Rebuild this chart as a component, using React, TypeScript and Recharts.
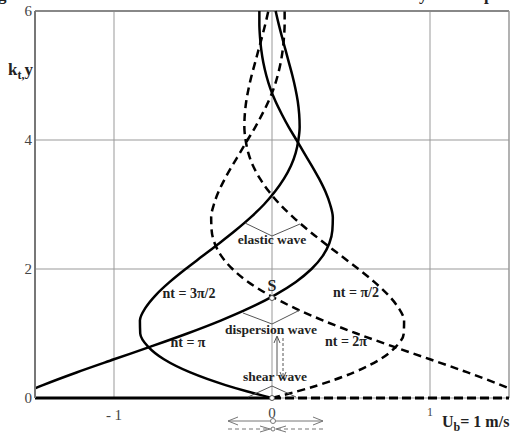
import React from 'react';
import { ComposedChart, Line, XAxis, YAxis, CartesianGrid, ReferenceLine } from 'recharts';

const ky = [0, 0.1, 0.2, 0.4, 0.6, 0.8, 1.0, 1.2, 1.4, 1.6, 1.8, 2.0, 2.2, 2.4, 2.6, 2.8, 3.0, 3.2, 3.4, 3.6, 3.8, 4.0, 4.2, 4.4, 4.6, 4.8, 5.0, 5.2, 5.4, 5.6, 5.8, 6.0];
const ntPi = [-1.635, -1.548, -1.45, -1.233, -1.0, -0.764, -0.536, -0.325, -0.138, 0.021, 0.151, 0.25, 0.32, 0.363, 0.382, 0.385, 0.368, 0.338, 0.298, 0.252, 0.203, 0.155, 0.106, 0.062, 0.022, -0.011, -0.036, -0.055, -0.068, -0.076, -0.08, -0.08];
const nt3Pi2 = [0, -0.155, -0.294, -0.521, -0.684, -0.786, -0.834, -0.836, -0.8, -0.734, -0.647, -0.547, -0.44, -0.333, -0.23, -0.135, -0.051, 0.019, 0.076, 0.12, 0.15, 0.167, 0.175, 0.172, 0.163, 0.148, 0.129, 0.107, 0.085, 0.063, 0.042, 0.023];
const nt2Pi = [1.635, 1.548, 1.45, 1.233, 1.0, 0.764, 0.536, 0.325, 0.138, -0.021, -0.151, -0.25, -0.32, -0.363, -0.382, -0.385, -0.368, -0.338, -0.298, -0.252, -0.203, -0.155, -0.106, -0.062, -0.022, 0.011, 0.036, 0.055, 0.068, 0.076, 0.08, 0.08];
const ntPi2 = [0, 0.155, 0.294, 0.521, 0.684, 0.786, 0.834, 0.836, 0.8, 0.734, 0.647, 0.547, 0.44, 0.333, 0.23, 0.135, 0.051, -0.019, -0.076, -0.12, -0.15, -0.167, -0.175, -0.172, -0.163, -0.148, -0.129, -0.107, -0.085, -0.063, -0.042, -0.023];

const xTicks = [-1, 0, 1];
const xTickLabels = ['- 1', '0', '1'];
const yTicks = [0, 2, 4, 6];

const data = ky.map((y, i) => ({ ky: y, ntPi: ntPi[i], nt3Pi2: nt3Pi2[i], nt2Pi: nt2Pi[i], ntPi2: ntPi2[i] }));

const SERIF = "'Liberation Serif', 'DejaVu Serif', serif";

const XTick = (props: any) => {
  const { x, y, payload, index } = props;
  const dy = index === 0 ? 14 : index === 1 ? 12 : 10;
  const size = index === 2 ? 12 : 15;
  return (
    <text x={x} y={y + dy} textAnchor="middle" fontFamily={SERIF} fontSize={size} fill="#444">
      {xTickLabels[xTicks.indexOf(payload.value)]}
    </text>
  );
};

const YTick = (props: any) => {
  const { x, y, payload } = props;
  return (
    <text x={x} y={y + 5} textAnchor="end" fontFamily={SERIF} fontSize={15} fill="#444">
      {payload.value}
    </text>
  );
};

const Overlay = () => {
  const g = '#555';
  const lab = { fontFamily: SERIF, fontWeight: 700, fill: '#222' } as any;
  return (
    <svg width={512} height={435} style={{ position: 'absolute', left: 0, top: 0, pointerEvents: 'none' }}>
      {/* cut-off title descenders */}
      <text x={-2} y={0} fontSize={17} {...lab}>g</text>
      <text x={419} y={0} fontSize={17} {...lab}>y</text>
      <text x={484} y={0} fontSize={17} {...lab}>p</text>
      {/* curve labels */}
      <text x={189} y={298} textAnchor="middle" fontSize={14} {...lab}>nt = 3π/2</text>
      <text x={188} y={347} textAnchor="middle" fontSize={14} {...lab}>nt = π</text>
      <text x={356} y={297} textAnchor="middle" fontSize={14} {...lab}>nt = π/2</text>
      <text x={346} y={346} textAnchor="middle" fontSize={14} {...lab}>nt = 2π</text>
      {/* wave labels */}
      <polyline points="245,223 272,236 300,224" fill="none" stroke={g} strokeWidth={1} />
      <text x={272} y={244} textAnchor="middle" fontSize={13.5} {...lab}>elastic wave</text>
      <text x={272} y={291} textAnchor="middle" fontSize={16} {...lab}>S</text>
      <circle cx={272} cy={298} r={2.5} fill="#fff" stroke={g} strokeWidth={1} />
      <polyline points="243,313 272,324 300,310" fill="none" stroke={g} strokeWidth={1} />
      <text x={271} y={334} textAnchor="middle" fontSize={13.5} {...lab}>dispersion wave</text>
      <line x1={277} y1={376} x2={277} y2={337} stroke={g} strokeWidth={1} />
      <polyline points="274,343 277,336 280,343" fill="none" stroke={g} strokeWidth={1} />
      <line x1={283} y1={338} x2={283} y2={378} stroke={g} strokeWidth={1} strokeDasharray="3 2" />
      <polyline points="280,372 283,379 286,372" fill="none" stroke={g} strokeWidth={1} />
      <text x={275} y={381} textAnchor="middle" fontSize={13.5} {...lab}>shear wave</text>
      <polyline points="248,397 272,386 296,397" fill="none" stroke={g} strokeWidth={1} />
      <circle cx={272} cy={398} r={2.5} fill="#fff" stroke={g} strokeWidth={1} />
      {/* arrows under axis */}
      <line x1={228} y1={421} x2={323} y2={421} stroke="#777" strokeWidth={1} />
      <polyline points="238,417 228,421 238,425" fill="none" stroke="#777" strokeWidth={1} />
      <polyline points="313,417 323,421 313,425" fill="none" stroke="#777" strokeWidth={1} />
      <circle cx={273} cy={421} r={2.5} fill="#fff" stroke="#777" strokeWidth={1} />
      <line x1={228} y1={429} x2={323} y2={429} stroke="#777" strokeWidth={1} strokeDasharray="4 3" />
      <polyline points="260,426 270,429 260,432" fill="none" stroke="#777" strokeWidth={1} />
      <polyline points="286,426 276,429 286,432" fill="none" stroke="#777" strokeWidth={1} />
      <circle cx={273} cy={429} r={2} fill="#fff" stroke="#777" strokeWidth={1} />
      {/* axis titles */}
      <text x={8} y={75} fontSize={17} {...lab}>k<tspan fontSize={12} dy={4}>t,</tspan><tspan dy={-4}>y</tspan></text>
      <text x={442} y={427} fontSize={16} {...lab}>U<tspan fontSize={12} dy={4}>b</tspan><tspan dy={-4}>= 1 m/s</tspan></text>
    </svg>
  );
};

export default function App() {
  return (
    <div style={{ position: 'absolute', left: 0, top: 0, width: 512, height: 435, background: '#fff' }}>
      <ComposedChart width={512} height={435} data={data} layout="vertical" margin={{ top: 11, right: 3, bottom: 0, left: 0 }}>
        <CartesianGrid stroke="#999" strokeWidth={1} />
        <XAxis type="number" domain={[-1.5, 1.5]} ticks={xTicks} allowDataOverflow height={37} axisLine={false} tickLine={false} tick={<XTick />} />
        <YAxis type="number" dataKey="ky" domain={[0, 6]} ticks={yTicks} reversed width={35} axisLine={{ stroke: '#777', strokeWidth: 2 }} tickLine={false} tickSize={0} tickMargin={3} tick={<YTick />} />
        <ReferenceLine y={6} stroke="#888" strokeWidth={2} />
        <ReferenceLine x={1.5} stroke="#999" strokeWidth={1} />
        <ReferenceLine segment={[{ x: -1.5, y: 0 }, { x: 0, y: 0 }]} stroke="#000" strokeWidth={3} />
        <ReferenceLine segment={[{ x: 0, y: 0 }, { x: 1.5, y: 0 }]} stroke="#000" strokeWidth={3} strokeDasharray="9 4" />
        <Line dataKey="ntPi" type="monotone" stroke="#000" strokeWidth={2.5} dot={false} isAnimationActive={false} />
        <Line dataKey="nt3Pi2" type="monotone" stroke="#000" strokeWidth={2.5} dot={false} isAnimationActive={false} />
        <Line dataKey="nt2Pi" type="monotone" stroke="#000" strokeWidth={2.5} strokeDasharray="8 5" dot={false} isAnimationActive={false} />
        <Line dataKey="ntPi2" type="monotone" stroke="#000" strokeWidth={2.5} strokeDasharray="8 5" dot={false} isAnimationActive={false} />
      </ComposedChart>
      <Overlay />
    </div>
  );
}
